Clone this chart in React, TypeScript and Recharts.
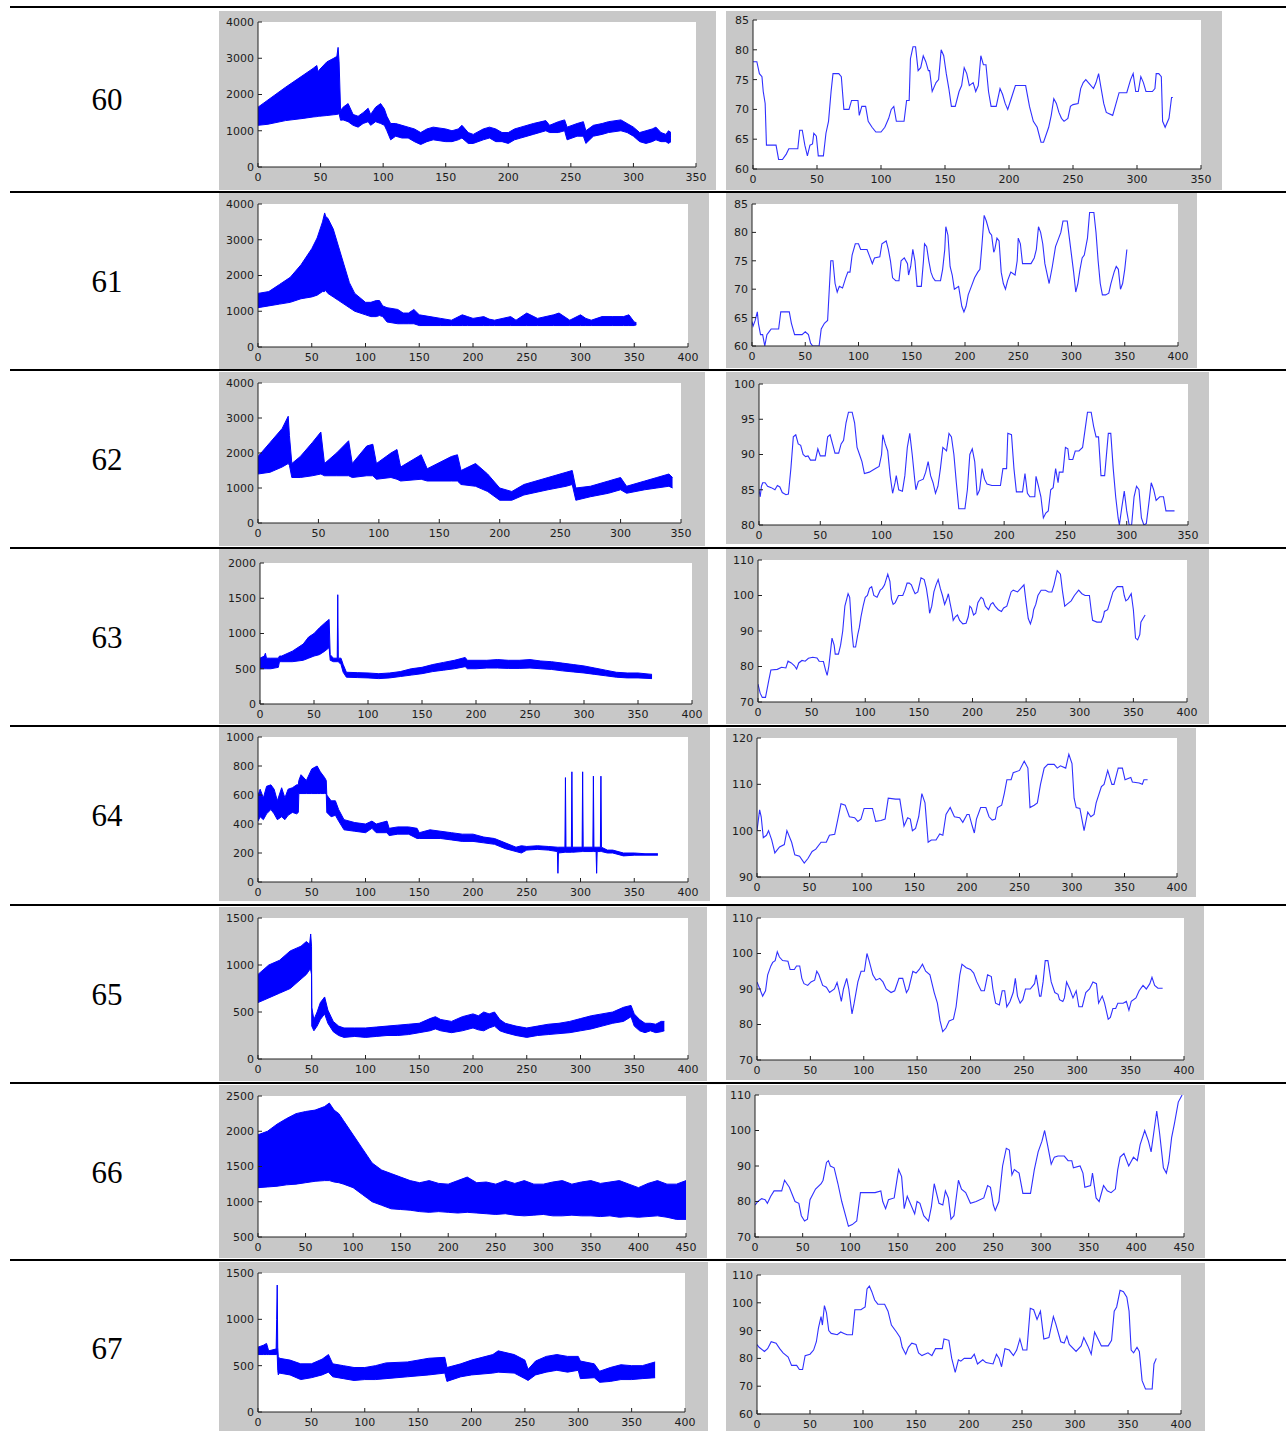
import React from 'react';
import { ComposedChart, Area, Line, XAxis, YAxis } from 'recharts';

// ---------- tick labels ----------
const xTicks350 = [0, 50, 100, 150, 200, 250, 300, 350];
const xTicks400 = [0, 50, 100, 150, 200, 250, 300, 350, 400];
const xTicks450 = [0, 50, 100, 150, 200, 250, 300, 350, 400, 450];
const yTicks4000 = [0, 1000, 2000, 3000, 4000];
const yTicks2000 = [0, 500, 1000, 1500, 2000];
const yTicks1000 = [0, 200, 400, 600, 800, 1000];
const yTicks1500 = [0, 500, 1000, 1500];
const yTicks2500 = [500, 1000, 1500, 2000, 2500];
const yTicks60to85 = [60, 65, 70, 75, 80, 85];
const yTicks80to100 = [80, 85, 90, 95, 100];
const yTicks70to110 = [70, 80, 90, 100, 110];
const yTicks90to120 = [90, 100, 110, 120];
const yTicks60to110 = [60, 70, 80, 90, 100, 110];

const rowLabels = ['60', '61', '62', '63', '64', '65', '66', '67'];

// ---------- left column: signal envelope [x, low, high] ----------
const band60: number[][] = [
  [0, 1150, 1650], [8, 1180, 1850], [22, 1280, 2200], [36, 1340, 2530], [44, 1380, 2720], [47, 1390, 2800],
  [48, 1400, 2620], [49, 1400, 2680], [55, 1420, 2900], [60, 1440, 2990], [63, 1450, 3050], [64, 1460, 3300],
  [64.8, 1470, 2900], [66, 1290, 1560], [68, 1300, 1650], [72, 1250, 1750], [76, 1150, 1450], [80, 1100, 1400],
  [84, 1200, 1500], [88, 1250, 1620], [90, 1150, 1450], [94, 1250, 1650], [98, 1200, 1750], [101, 1150, 1600],
  [103, 1000, 1400], [106, 750, 1200], [110, 850, 1200], [115, 800, 1150], [120, 800, 1100], [125, 700, 1050],
  [130, 620, 950], [135, 700, 1050], [140, 750, 1100], [150, 700, 1050], [155, 700, 1000], [160, 750, 1050],
  [163, 800, 1150], [168, 650, 950], [172, 650, 900], [180, 750, 1050], [185, 800, 1100], [190, 700, 1050],
  [195, 700, 950], [200, 650, 950], [205, 750, 1050], [210, 800, 1100], [220, 900, 1200], [230, 1000, 1280],
  [233, 950, 1150], [240, 950, 1250], [245, 1000, 1300], [247, 750, 1100], [255, 850, 1200], [260, 850, 1250],
  [262, 650, 1000], [268, 850, 1150], [275, 900, 1200], [280, 950, 1250], [290, 1000, 1300], [295, 950, 1200],
  [300, 850, 1100], [305, 700, 950], [310, 650, 1000], [315, 700, 1050], [318, 750, 1100], [322, 700, 950],
  [326, 700, 900], [328, 650, 1000], [330, 700, 950],
];
const band61: number[][] = [
  [0, 1100, 1500], [10, 1150, 1550], [20, 1200, 1750], [30, 1250, 1950], [40, 1350, 2300], [50, 1400, 2750],
  [55, 1450, 3050], [60, 1550, 3500], [62, 1550, 3750], [63, 1580, 3650], [65, 1500, 3600], [70, 1400, 3300],
  [75, 1300, 2800], [80, 1200, 2300], [85, 1100, 1800], [90, 1000, 1500], [100, 900, 1250], [105, 850, 1250],
  [110, 850, 1300], [113, 880, 1300], [116, 850, 1150], [120, 700, 1100], [130, 650, 1050], [135, 650, 950],
  [140, 650, 950], [145, 650, 1050], [150, 600, 900], [160, 600, 850], [170, 600, 800], [180, 600, 750],
  [190, 600, 900], [195, 600, 850], [200, 600, 800], [210, 600, 850], [215, 600, 780], [220, 600, 750],
  [235, 600, 850], [240, 600, 750], [250, 600, 950], [260, 600, 800], [275, 600, 900], [280, 600, 950],
  [290, 600, 750], [300, 600, 900], [305, 600, 800], [310, 600, 750], [320, 600, 850], [330, 600, 850],
  [340, 600, 850], [345, 600, 900], [350, 600, 700], [352, 620, 680],
];
const band62: number[][] = [
  [0, 1400, 1900], [10, 1450, 2300], [20, 1600, 2700], [25, 1700, 3050], [26, 1650, 2500], [28, 1300, 1700],
  [35, 1300, 1900], [45, 1350, 2300], [52, 1400, 2600], [55, 1350, 1700], [65, 1350, 2000], [75, 1350, 2350],
  [78, 1300, 1700], [90, 1350, 2200], [95, 1350, 2250], [98, 1250, 1700], [110, 1300, 2000], [115, 1250, 2100],
  [118, 1200, 1600], [135, 1250, 1950], [140, 1200, 1550], [160, 1200, 1900], [165, 1200, 1950], [168, 1100, 1500],
  [180, 1050, 1700], [190, 900, 1400], [200, 650, 1000], [210, 650, 900], [220, 800, 1100], [240, 950, 1300],
  [255, 1050, 1450], [260, 1100, 1500], [263, 650, 1000], [275, 750, 1050], [290, 850, 1200], [300, 950, 1300],
  [305, 850, 1050], [320, 950, 1200], [330, 1000, 1300], [340, 1050, 1400], [343, 1000, 1300],
];
const band63: number[][] = [
  [0, 500, 650], [4, 500, 680], [5, 500, 720], [6, 500, 650], [10, 500, 650], [17, 520, 650], [18, 600, 680],
  [20, 600, 680], [30, 600, 750], [40, 620, 850], [45, 650, 950], [50, 680, 1000], [55, 700, 1080],
  [60, 750, 1150], [64, 800, 1200], [65, 620, 700], [68, 600, 650], [71.5, 600, 650], [72, 600, 1550],
  [72.5, 600, 650], [75, 560, 650], [77, 450, 560], [80, 380, 450], [90, 375, 445], [100, 370, 440],
  [110, 360, 430], [120, 370, 440], [130, 390, 460], [140, 410, 500], [150, 430, 520], [160, 460, 560],
  [170, 480, 590], [180, 500, 620], [190, 530, 660], [192, 500, 620], [200, 500, 620], [210, 510, 620],
  [220, 510, 630], [230, 505, 620], [240, 505, 620], [250, 510, 630], [260, 500, 610], [270, 490, 600],
  [280, 470, 580], [290, 455, 560], [300, 440, 540], [310, 420, 510], [320, 400, 480], [330, 380, 450],
  [340, 370, 440], [350, 370, 440], [363, 360, 420],
];
const band64: number[][] = [
  [0, 420, 600], [2, 450, 640], [5, 430, 580], [8, 470, 660], [12, 500, 670], [15, 470, 640], [18, 430, 560],
  [22, 450, 650], [25, 430, 580], [28, 460, 640], [32, 480, 650], [36, 470, 670], [37.5, 480, 670],
  [38, 610, 700], [40, 610, 740], [45, 610, 700], [50, 610, 780], [55, 610, 800], [58, 610, 760],
  [62, 610, 720], [63.5, 610, 700], [64, 480, 600], [68, 450, 560], [72, 460, 560], [75, 420, 500],
  [80, 360, 430], [90, 350, 410], [100, 340, 400], [106, 370, 420], [110, 340, 400], [120, 340, 420],
  [122, 320, 370], [130, 330, 380], [140, 330, 380], [148, 300, 370], [150, 300, 340], [160, 300, 360],
  [170, 300, 350], [180, 290, 340], [190, 280, 330], [200, 280, 330], [210, 270, 310], [220, 260, 300],
  [230, 230, 270], [240, 210, 240], [245, 200, 250], [250, 220, 245], [260, 225, 250], [270, 220, 245],
  [278.5, 210, 240], [279, 60, 240], [279.5, 200, 240], [285.5, 205, 240], [286, 205, 720], [286.5, 205, 240],
  [291.5, 205, 240], [292, 205, 760], [292.5, 205, 240], [301.5, 210, 240], [302, 210, 760], [302.5, 210, 240],
  [311.5, 210, 240], [312, 210, 730], [312.5, 210, 240], [314.5, 210, 240], [315, 60, 240], [315.5, 210, 240],
  [318.5, 210, 240], [319, 210, 730], [319.5, 210, 240], [325, 200, 220], [330, 200, 220], [340, 180, 200],
  [350, 185, 200], [360, 185, 195], [372, 185, 195],
];
const band65: number[][] = [
  [0, 600, 900], [10, 650, 1000], [20, 700, 1050], [30, 750, 1150], [40, 850, 1200], [45, 900, 1250],
  [48, 950, 1220], [49, 950, 1330], [49.8, 900, 1200], [50, 350, 550], [52, 300, 420], [55, 350, 500],
  [58, 420, 600], [62, 480, 660], [65, 380, 520], [70, 290, 400], [75, 250, 350], [80, 230, 330],
  [90, 240, 330], [100, 230, 330], [110, 240, 340], [120, 250, 350], [130, 250, 360], [140, 260, 370],
  [150, 280, 380], [160, 300, 430], [165, 320, 450], [170, 300, 420], [180, 280, 400], [190, 300, 450],
  [200, 330, 480], [205, 310, 460], [210, 300, 500], [215, 330, 480], [220, 350, 500], [225, 300, 420],
  [230, 280, 380], [240, 250, 350], [250, 230, 330], [260, 250, 350], [270, 260, 370], [280, 270, 380],
  [290, 280, 400], [300, 300, 430], [310, 320, 460], [320, 350, 480], [330, 380, 500], [340, 400, 550],
  [347, 450, 570], [350, 350, 480], [355, 300, 420], [360, 280, 380], [365, 300, 380], [370, 280, 370],
  [375, 290, 400], [378, 300, 400],
];
const band66: number[][] = [
  [0, 1200, 1950], [10, 1210, 2000], [20, 1220, 2100], [30, 1240, 2180], [40, 1250, 2250], [50, 1270, 2280],
  [60, 1290, 2300], [70, 1300, 2350], [75, 1300, 2400], [80, 1280, 2300], [85, 1270, 2250], [90, 1250, 2150],
  [100, 1200, 1950], [110, 1100, 1750], [115, 1050, 1650], [120, 1000, 1550], [130, 950, 1450], [140, 900, 1400],
  [150, 890, 1350], [160, 880, 1300], [170, 860, 1270], [180, 850, 1300], [190, 860, 1260], [200, 850, 1250],
  [210, 840, 1300], [220, 850, 1350], [230, 840, 1270], [240, 830, 1280], [250, 820, 1250], [260, 830, 1300],
  [270, 810, 1260], [280, 800, 1300], [290, 810, 1250], [300, 820, 1250], [310, 800, 1280], [320, 800, 1300],
  [330, 810, 1250], [340, 800, 1280], [350, 800, 1300], [360, 790, 1260], [370, 800, 1280], [380, 780, 1300],
  [390, 790, 1250], [400, 780, 1200], [410, 790, 1260], [420, 800, 1300], [430, 780, 1250], [440, 750, 1250],
  [450, 750, 1300],
];
const band67: number[][] = [
  [0, 620, 700], [5, 620, 720], [8, 620, 740], [10, 620, 660], [17, 620, 680], [17.5, 620, 1000],
  [18, 620, 1370], [18.5, 450, 700], [19, 400, 600], [20, 420, 580], [30, 400, 560], [40, 350, 520],
  [50, 370, 520], [60, 400, 570], [66, 430, 620], [70, 380, 520], [80, 360, 500], [90, 340, 480],
  [100, 350, 480], [110, 350, 500], [120, 360, 530], [140, 380, 540], [160, 400, 580], [175, 420, 590],
  [177, 330, 480], [190, 380, 520], [200, 400, 560], [220, 420, 620], [225, 430, 660], [240, 420, 620],
  [250, 360, 560], [253, 340, 460], [260, 400, 550], [270, 430, 600], [280, 450, 620], [290, 430, 600],
  [300, 450, 600], [302, 360, 550], [315, 370, 520], [320, 320, 440], [330, 330, 480], [340, 350, 510],
  [350, 350, 500], [360, 360, 500], [372, 370, 540],
];

// ---------- right column: trace [x, y] ----------
const trace60: number[][] = [
  [0, 78], [3, 78], [5, 76], [7, 75.5], [8, 73], [9.5, 71], [10.5, 64], [18, 64], [20, 61.6], [23, 61.6],
  [26, 62.5], [28, 63.4], [35, 63.4], [36.5, 66.5], [38.5, 66.5], [40.5, 64], [42.5, 62.2], [44.5, 64],
  [46.5, 64.2], [47.5, 66], [49.5, 65.5], [51, 62.2], [55, 62.2], [57, 66], [59, 68], [61, 73], [62.5, 76],
  [67, 76], [69, 75.5], [71, 70], [75, 70], [77, 71.5], [82, 71.5], [83, 69], [85, 70.5], [88, 70.5],
  [90, 68], [93, 67], [96, 66.2], [100, 66.2], [103, 67], [106, 68.5], [108, 70], [110, 70.5], [112, 68],
  [118, 68], [120, 71.5], [122, 71.5], [123, 78.5], [125, 80.5], [127, 80.5], [129, 76.5], [131, 77],
  [133, 79], [135, 78], [137, 76.5], [138, 76.5], [140, 73], [143, 74.5], [145, 75], [147, 80], [149, 79],
  [151, 76], [153, 73.5], [155, 70.5], [158, 70.5], [161, 73], [163, 74], [165, 77], [167, 76], [169, 74],
  [172, 74.5], [174, 73], [176, 74], [178, 79], [180, 77.5], [182, 77.5], [184, 73], [186, 70.5], [190, 70.5],
  [193, 73.5], [195, 72.5], [197, 71], [199, 70], [202, 72], [205, 74], [213, 74], [216, 70.5], [219, 68],
  [222, 67], [225, 64.5], [227, 64.5], [231, 67], [233, 69], [235, 71.8], [237, 71], [239, 69.5],
  [241, 68.5], [243, 68], [246, 68.5], [248, 70.5], [250, 70.8], [254, 71], [256, 73.5], [258, 74.5],
  [260, 75], [262, 74.5], [266, 73.5], [268, 74.5], [270, 76], [272, 73.5], [274, 71], [276, 69.5],
  [281, 69], [286, 72.8], [292, 72.8], [295, 75], [297, 76], [299, 73], [301, 73], [303, 75.5], [305, 74.5],
  [307, 73], [312, 73], [314, 73.5], [315, 76], [317, 76], [319, 75.5], [320, 68], [322, 67], [325, 68.5],
  [327, 72], [328, 72],
];
const trace61: number[][] = [
  [0, 64.3], [1, 63.5], [3, 64.5], [5, 66], [6, 64], [8, 62], [10, 62], [12, 60], [14, 62], [16, 62.5],
  [18, 63], [25, 63], [27, 66], [35, 66], [37, 64], [40, 62], [47, 62], [50, 62.5], [53, 62], [55, 60.5],
  [57, 60], [63, 60], [65, 63], [68, 64], [71, 64.5], [74, 75], [76, 75], [78, 71], [80, 69.5], [82, 70.5],
  [85, 70.2], [88, 72], [90, 73], [92, 73], [94, 76], [97, 78], [100, 78], [102, 77], [108, 77], [110, 76],
  [112, 75], [113, 74.5], [115, 75.5], [120, 75.7], [122, 78], [126, 78.5], [128, 77], [130, 75], [132, 72],
  [135, 71.5], [138, 71.5], [140, 75], [143, 75.5], [146, 74.5], [147, 72.5], [149, 74], [151, 77], [153, 75],
  [155, 70.5], [159, 70.5], [161, 75], [162, 78], [164, 77.5], [166, 75], [168, 73], [170, 72], [172, 71.5],
  [177, 71.5], [179, 73.5], [181, 77], [182, 81], [184, 79.5], [186, 74], [188, 72.5], [190, 70], [194, 70.5],
  [197, 67], [199, 66], [201, 67], [203, 69], [206, 70.5], [209, 72], [212, 73], [214, 73.5], [216, 78],
  [218, 83], [220, 82], [223, 80], [225, 79.5], [227, 76.5], [228, 77], [230, 79], [232, 78.5], [234, 73],
  [236, 71], [238, 70], [240, 71.5], [243, 73], [247, 72.5], [249, 75], [250, 79], [252, 78], [254, 74.5],
  [262, 74.5], [265, 75.5], [267, 77], [269, 81], [271, 80], [273, 78], [275, 74.5], [279, 71], [282, 74],
  [285, 77.5], [288, 79], [290, 80], [292, 82], [296, 82], [298, 79], [300, 76], [302, 73], [304, 69.5],
  [306, 71], [308, 73.5], [310, 75.5], [312, 76], [315, 79], [317, 83.5], [321, 83.5], [323, 80], [325, 75],
  [327, 71], [329, 69], [332, 69], [335, 69.3], [337, 71], [340, 73], [342, 74], [344, 73.5], [346, 70],
  [348, 71], [350, 73.5], [352, 77],
];
const trace62: number[][] = [
  [0, 85], [1, 84], [2, 85.5], [3, 86], [5, 86], [7, 85.5], [10, 85.3], [13, 85], [15, 85.6], [17, 85.4],
  [19, 84.6], [22, 84.3], [24, 84.4], [26, 88], [28, 92.5], [30, 92.8], [32, 91.5], [34, 91.3], [36, 90],
  [38, 89.7], [40, 89.8], [42, 89.2], [46, 89.2], [48, 90.8], [50, 89.8], [54, 89.8], [56, 92.5], [58, 92.8],
  [60, 91.5], [62, 90.2], [65, 90.2], [67, 91.5], [69, 92], [71, 94.5], [73, 96], [76, 96], [78, 94.5],
  [80, 91], [82, 90], [84, 89], [86, 87.3], [90, 87.5], [95, 88], [98, 88.3], [100, 90], [101, 92.8],
  [103, 91.5], [105, 90.5], [107, 87], [109, 84.5], [111, 86], [112, 87], [114, 85], [117, 84.8], [119, 87],
  [121, 91], [123, 93], [125, 90], [127, 86.5], [128, 85], [130, 86.2], [134, 86.5], [136, 87.5], [138, 89],
  [140, 87], [142, 86], [144, 84.5], [146, 85.5], [148, 88], [150, 91], [153, 90.5], [155, 93], [157, 92.5],
  [159, 90], [161, 86], [163, 82.3], [168, 82.3], [170, 85], [172, 90], [174, 90.8], [176, 89], [178, 84.2],
  [180, 85], [182, 88], [184, 86.5], [186, 85.8], [190, 85.6], [197, 85.6], [199, 88], [202, 88], [203, 93],
  [206, 92.8], [208, 88], [210, 84.7], [215, 84.7], [217, 87.3], [219, 84.5], [221, 84], [225, 84],
  [226, 86.9], [228, 85.5], [230, 84], [232, 81], [234, 81.7], [236, 82], [238, 85], [240, 85.3], [242, 88],
  [244, 86], [245, 87.5], [248, 87.5], [250, 91], [252, 90.8], [253, 89.3], [256, 89.3], [258, 90.5],
  [261, 90.5], [264, 91], [266, 93.5], [268, 96], [271, 96], [273, 94], [275, 92.5], [277, 92.5], [279, 87],
  [282, 87], [285, 93], [287, 93], [289, 88], [291, 84], [293, 81], [294, 80], [296, 82.5], [298, 84.8],
  [300, 82], [302, 80], [304, 80], [306, 84], [308, 85.5], [310, 85], [312, 81], [314, 80], [316, 80.2],
  [318, 83], [320, 86], [322, 85], [324, 83.5], [327, 84], [330, 84], [332, 82], [336, 82], [339, 82],
];
const trace63: number[][] = [
  [0, 75], [2, 72.5], [4, 71.3], [7, 71.3], [10, 76], [12, 79], [18, 79.2], [22, 79.8], [26, 79.6],
  [28, 81.5], [31, 81], [34, 80.2], [36, 79.3], [38, 81], [41, 81.7], [44, 81.5], [47, 82.3], [51, 82.6],
  [55, 82.4], [57, 81.5], [61, 81.4], [63, 79], [64.5, 77.5], [66, 80], [69, 88], [71, 86], [72, 83.5],
  [75, 83.5], [77, 86], [79, 90], [81, 97], [84, 100.5], [85.5, 99.5], [87.5, 90], [89, 85.5], [91, 85.5],
  [93, 89], [94.5, 91], [96, 94], [98, 97], [100, 99.5], [102, 100], [104, 102], [106, 102.5], [108, 100],
  [111, 99.5], [114, 101.5], [116, 102], [118, 103], [121, 106], [123, 104], [124.5, 99], [126, 97.5],
  [128, 98], [131, 100], [135, 100], [137, 101.5], [139, 103.5], [141, 103.5], [143, 103], [145, 101.5],
  [146.5, 100.5], [149, 101], [152, 105], [155, 104.5], [157, 102], [159, 98], [160, 95], [162, 97],
  [164, 101], [166, 103], [168, 104.5], [170, 102], [172, 100], [174, 97.5], [176, 99], [177.5, 100.5],
  [179, 98], [181, 95], [182, 93], [184, 94], [186, 94.5], [188, 93], [191, 92], [194, 92.2], [196, 94],
  [197.5, 97], [199, 96.5], [201, 94.5], [203, 95], [205, 98], [208, 99.5], [210, 99], [212, 97], [215, 96],
  [217, 97.5], [219, 98], [221, 97], [224, 96], [227, 95.5], [229, 96.5], [232, 97], [234, 99], [236, 101],
  [238, 101.5], [242, 101], [245, 102], [248, 103], [250, 98], [252, 93.5], [254, 92], [256, 94], [257, 96],
  [259, 97.5], [261, 100], [264, 101.5], [268, 101.5], [271, 101], [274, 101], [276, 103], [279, 107],
  [282, 106], [284, 101], [286, 97], [288, 97.5], [290, 98], [292, 98.5], [295, 100], [299, 101.5],
  [302, 100.5], [305, 100], [309, 100], [311, 95], [312, 93], [316, 92.5], [320, 92.5], [322, 94],
  [323, 95.5], [326, 96], [328, 98], [331, 101], [335, 102.5], [340, 102.5], [341.5, 100], [343, 98.5],
  [345, 99], [348, 100.5], [350, 96], [352, 88], [354, 87.5], [356, 89], [357, 92.5], [359, 93.5], [361, 94.5],
];
const trace64: number[][] = [
  [0, 100], [2.5, 104.5], [4, 103], [6, 98.5], [9, 99], [11, 100], [14, 98], [17, 95.2], [21.5, 96.5],
  [26, 97], [28.5, 100], [33, 97.5], [36, 94.8], [40.5, 94.5], [45, 93], [48.5, 94], [52.5, 95.5], [56, 96],
  [61, 97.5], [66, 97.5], [69, 99], [74, 99.2], [77, 102.5], [80, 105.8], [84, 105.5], [88, 103], [93, 102.8],
  [96, 102], [99, 102.5], [102, 104.8], [110, 104.8], [113, 102], [118, 102.2], [122, 102.5], [125, 107],
  [132, 106.8], [136, 106.8], [140, 101], [143.5, 102.8], [146, 102.5], [148, 100], [151, 100.5], [154, 103],
  [157, 108], [160, 106], [163, 97.5], [166, 98], [170.5, 98], [174, 99.3], [177, 99], [180, 103.5],
  [184, 105], [188, 103], [193, 102.8], [196, 101.8], [200, 103.5], [202, 103.5], [205, 101], [207, 99.5],
  [209, 102.5], [213, 105], [218, 105], [221, 103], [224, 102.3], [227, 102.5], [229, 105], [233, 105.5],
  [235.5, 108], [238, 111], [242, 111], [244, 112.5], [250, 113], [254.5, 115], [258, 113.5], [260, 105],
  [264, 105.5], [267, 106], [270, 110], [273.5, 113.5], [277, 114.3], [283, 114.3], [286, 113.5], [289, 114],
  [294, 113.5], [297, 116.5], [300, 114.5], [302, 107], [304, 105], [307.5, 104.8], [311.5, 100], [315, 104],
  [318, 103], [321, 103.5], [323, 106], [328, 109.5], [330.5, 110], [334, 113], [338, 110], [340, 110],
  [344, 113.5], [348, 113.5], [350.5, 111], [356, 111.5], [357.5, 110.5], [364, 110.3], [367, 110],
  [368.5, 111], [372, 111],
];
const trace65: number[][] = [
  [0, 92], [2, 90.5], [5.3, 88], [8, 89.5], [10, 94], [13, 96.5], [14.7, 97.5], [17, 98], [19, 100.5],
  [21, 99], [24, 98], [29, 97.8], [31, 95.5], [35, 95.5], [37, 96.5], [40, 96.5], [42, 93], [44, 91.5],
  [47.5, 91], [50.6, 92], [54, 92.5], [56, 95], [58, 94], [61.5, 91], [65, 90.5], [68, 89], [72.5, 90],
  [75, 91.8], [76.5, 90], [79, 86.5], [81, 90], [84, 93], [86, 90], [89, 83], [91, 86], [94.5, 92],
  [97.5, 95], [100.6, 95], [103, 100], [105, 98], [108.5, 94], [111.5, 92.5], [115, 93], [118, 92],
  [121, 90], [125.6, 89], [129, 89.5], [133, 93], [136.5, 93], [140, 89], [142, 90], [146, 95], [149, 94.5],
  [152, 95.5], [155, 97], [158, 95], [162, 94], [166, 89], [169, 86], [171.5, 81], [174, 78], [177, 79],
  [180, 81], [184, 81.5], [186.5, 85], [190, 94], [192, 97], [196, 96], [200, 95.5], [203, 94.5], [206, 92],
  [210, 89.5], [213, 89.5], [216, 94], [219.5, 93.5], [221, 90], [223.5, 86], [227, 85.5], [229.7, 89.5],
  [232, 89.5], [234, 85], [237, 86.5], [240, 89], [242, 93], [244, 88], [246.5, 86], [249, 87], [251.5, 90],
  [256, 90], [260, 91.5], [261.5, 94], [264.7, 88], [266, 88], [268, 92], [270, 98], [272.5, 98], [275.6, 92],
  [279, 89], [282, 88.5], [283.4, 87], [286.5, 86.5], [288, 87.5], [290, 92], [293, 90], [296, 87.5],
  [299, 89.5], [301.5, 85], [304.7, 85], [308, 89], [311.5, 90], [314.7, 92], [318, 91.5], [320, 86],
  [323.4, 88], [325.6, 86], [329, 81.5], [331, 82], [333.4, 84.5], [336, 84.5], [338, 86], [343, 86],
  [346, 86.5], [348.4, 84], [350.6, 86.5], [355, 87.5], [358, 89.5], [361.6, 91], [364.7, 90], [368, 91.5],
  [370, 93.3], [372.5, 91], [375.6, 90.2], [380, 90.2],
];
const trace66: number[][] = [
  [0, 79], [3, 80], [7, 80.8], [10.6, 80.5], [13, 79.5], [16.5, 81.5], [20, 83], [28, 83], [31, 86], [36, 84],
  [42, 80], [46, 79.5], [48.6, 76], [52, 74.5], [55, 75], [57.7, 80.5], [63.5, 83.5], [69.4, 85], [71.4, 86],
  [75, 91], [77, 91.5], [79, 90], [83, 89.5], [87, 85], [91, 80], [95, 76], [98, 73], [102, 73.5],
  [106.7, 74.5], [110.6, 82.5], [118.5, 82.5], [126, 82.5], [132, 83], [134, 80], [137, 78], [140, 80.5],
  [146, 81], [150.6, 89], [153.8, 87], [156.5, 78], [159.7, 81.5], [163.6, 79], [167.5, 76.5], [170, 80],
  [173, 79.5], [177, 76], [182, 74.5], [185, 78.5], [188, 85], [193, 79.5], [197, 79], [199.7, 83],
  [202.8, 81], [205.6, 75], [208.7, 76], [213.4, 86], [216.6, 83.5], [221, 82.5], [226, 79.5], [232, 80],
  [240, 81], [244, 84.5], [247, 84], [250, 79], [252, 77.5], [255.8, 80], [259.7, 90], [263.6, 95],
  [266.8, 94.5], [269.5, 87.5], [272, 89], [277, 88], [281, 82.3], [289, 82.3], [293, 89], [297, 94],
  [301, 97], [303.8, 100], [306.8, 96], [310.7, 90.5], [314, 92.5], [317.8, 92.8], [324.4, 92.8],
  [328.4, 91.5], [332.3, 91.5], [334, 89.5], [341, 90], [344, 88], [346, 84], [352, 84.5], [354, 88],
  [357.8, 81], [361, 80], [365.6, 84.5], [369.5, 83], [373.5, 82.5], [378, 83.5], [380.5, 89], [383, 92.5],
  [387, 93.5], [392, 90], [397, 92.5], [401, 91.5], [404, 96], [408.8, 100], [412.7, 97], [415.5, 94],
  [418.6, 100], [421.4, 105.5], [424.5, 99], [428.4, 89.5], [431.5, 88], [434, 91], [437, 98], [440, 102],
  [444, 108], [448, 110],
];
const trace67: number[][] = [
  [0, 85], [2, 84], [7, 82.5], [10, 83.5], [13.4, 86], [18, 85.5], [21.4, 83.5], [24.6, 82], [29.4, 80.5],
  [32.6, 77.5], [37.4, 77.5], [40, 76], [43, 76], [45.4, 81], [50, 81.5], [53.4, 83], [56, 86], [58, 91],
  [60.4, 95], [61.7, 92], [63.6, 99], [65.5, 96.5], [67.7, 90], [70, 89], [75.7, 88.5], [79, 89.5], [82, 89],
  [85, 88.5], [90, 88.5], [92.3, 97.5], [98, 97.5], [102, 98.5], [103.8, 105], [106, 106], [108.3, 104],
  [111, 101], [114, 99.5], [120.4, 99.5], [123.6, 97], [126.8, 92], [131.6, 89.5], [135, 87.5], [137, 84],
  [140.3, 81.5], [142.8, 84], [146, 85.5], [150, 85], [152.4, 82], [155.6, 81], [161.3, 82], [165, 81],
  [168.4, 83.5], [174.8, 83.5], [176.4, 87], [181, 86.5], [183.7, 80], [187, 75], [190, 79.5], [192.3, 79],
  [195.5, 80], [202, 80], [205, 81.5], [208, 78], [213, 79.5], [216, 78.5], [222.7, 78], [225.9, 81.5],
  [228.4, 80], [230.7, 77], [233.9, 83.5], [238, 83], [241.9, 81], [245, 83], [248, 87], [250.8, 83],
  [254.6, 83], [257.8, 98], [261, 97.5], [264.2, 94], [267.4, 97], [270.6, 87], [275.4, 87.5], [279.6, 95],
  [281.8, 92.5], [286.6, 86], [289.8, 85.5], [292.3, 88], [294.6, 85], [301, 82.5], [305.8, 84.5],
  [308.3, 87.5], [312.1, 84.5], [315.3, 81.5], [318.5, 89.5], [321.7, 87], [324.9, 84.5], [331.3, 84.5],
  [334.5, 86.5], [337, 97], [339.3, 98.5], [342.5, 104.5], [345.7, 104], [348.9, 102], [351, 97], [353, 83],
  [355.3, 82], [358.5, 84], [360.7, 82.5], [363.3, 72], [366.5, 69], [372.8, 69], [374.5, 78], [376.7, 80],
];

// ---------- layout ----------
type PanelSpec = {
  box: number[]; // left, top, right, bottom
  plot: number[]; // x0, x1, yTop, yBottom
  xDomain: number[];
  xTicks: number[];
  yDomain: number[];
  yTicks: number[];
  kind: 'band' | 'line';
  values: number[][];
};

const bandPanels: PanelSpec[] = [
  { box: [219, 11, 716, 190], plot: [258, 696, 22, 167], xDomain: [0, 350], xTicks: xTicks350, yDomain: [0, 4000], yTicks: yTicks4000, kind: 'band', values: band60 },
  { box: [219, 193, 709, 369], plot: [258, 688, 204, 347], xDomain: [0, 400], xTicks: xTicks400, yDomain: [0, 4000], yTicks: yTicks4000, kind: 'band', values: band61 },
  { box: [219, 372, 705, 546], plot: [258, 681, 383, 523], xDomain: [0, 350], xTicks: xTicks350, yDomain: [0, 4000], yTicks: yTicks4000, kind: 'band', values: band62 },
  { box: [219, 549, 708, 724], plot: [260, 692, 563, 704], xDomain: [0, 400], xTicks: xTicks400, yDomain: [0, 2000], yTicks: yTicks2000, kind: 'band', values: band63 },
  { box: [219, 727, 710, 901], plot: [258, 688, 737, 882], xDomain: [0, 400], xTicks: xTicks400, yDomain: [0, 1000], yTicks: yTicks1000, kind: 'band', values: band64 },
  { box: [219, 907, 707, 1081], plot: [258, 688, 918, 1059], xDomain: [0, 400], xTicks: xTicks400, yDomain: [0, 1500], yTicks: yTicks1500, kind: 'band', values: band65 },
  { box: [219, 1085, 707, 1258], plot: [258, 686, 1096, 1237], xDomain: [0, 450], xTicks: xTicks450, yDomain: [500, 2500], yTicks: yTicks2500, kind: 'band', values: band66 },
  { box: [219, 1262, 708, 1431], plot: [258, 685, 1273, 1412], xDomain: [0, 400], xTicks: xTicks400, yDomain: [0, 1500], yTicks: yTicks1500, kind: 'band', values: band67 },
];

const linePanels: PanelSpec[] = [
  { box: [726, 11, 1222, 190], plot: [753, 1201, 20, 169], xDomain: [0, 350], xTicks: xTicks350, yDomain: [60, 85], yTicks: yTicks60to85, kind: 'line', values: trace60 },
  { box: [726, 193, 1197, 368], plot: [752, 1178, 204, 346], xDomain: [0, 400], xTicks: xTicks400, yDomain: [60, 85], yTicks: yTicks60to85, kind: 'line', values: trace61 },
  { box: [726, 372, 1209, 544], plot: [759, 1188, 384, 525], xDomain: [0, 350], xTicks: xTicks350, yDomain: [80, 100], yTicks: yTicks80to100, kind: 'line', values: trace62 },
  { box: [726, 549, 1209, 724], plot: [758, 1187, 560, 702], xDomain: [0, 400], xTicks: xTicks400, yDomain: [70, 110], yTicks: yTicks70to110, kind: 'line', values: trace63 },
  { box: [726, 728, 1196, 897], plot: [757, 1177, 738, 877], xDomain: [0, 400], xTicks: xTicks400, yDomain: [90, 120], yTicks: yTicks90to120, kind: 'line', values: trace64 },
  { box: [726, 906, 1204, 1080], plot: [757, 1184, 918, 1060], xDomain: [0, 400], xTicks: xTicks400, yDomain: [70, 110], yTicks: yTicks70to110, kind: 'line', values: trace65 },
  { box: [726, 1085, 1205, 1258], plot: [755, 1184, 1095, 1237], xDomain: [0, 450], xTicks: xTicks450, yDomain: [70, 110], yTicks: yTicks70to110, kind: 'line', values: trace66 },
  { box: [726, 1263, 1205, 1431], plot: [757, 1181, 1275, 1414], xDomain: [0, 400], xTicks: xTicks400, yDomain: [60, 110], yTicks: yTicks60to110, kind: 'line', values: trace67 },
];

const rowLabelY = [100, 282, 460, 638, 816, 995, 1173, 1349];
const ruleY = [6, 191, 369, 547, 725, 904, 1082, 1259];

const AXIS = '#222';
const tickFont = { fontSize: 11, fill: '#1c1c1c', fontFamily: 'DejaVu Sans' };

function Panel({ spec }: { spec: PanelSpec }) {
  const [l, t, r, b] = spec.box;
  const [px0, px1, pyT, pyB] = spec.plot;
  const W = r - l;
  const H = b - t;
  const yW = px0 - l;
  const xH = b - pyB;
  const mTop = pyT - t;
  const mRight = r - px1;
  const data =
    spec.kind === 'band'
      ? spec.values.map((v) => ({ x: v[0], band: [v[1], v[2]] }))
      : spec.values.map((v) => ({ x: v[0], y: v[1] }));
  return (
    <div style={{ position: 'absolute', left: l, top: t, width: W, height: H, background: '#c8c8c8' }}>
      <div style={{ position: 'absolute', left: yW, top: mTop, width: px1 - px0, height: pyB - pyT, background: '#fff' }} />
      <ComposedChart width={W} height={H} data={data} margin={{ top: mTop, right: mRight, left: 0, bottom: 0 }}>
        <XAxis
          xAxisId="b"
          dataKey="x"
          type="number"
          domain={spec.xDomain}
          ticks={spec.xTicks}
          interval={0}
          allowDataOverflow
          height={xH}
          tickSize={-4}
          tickMargin={10}
          axisLine={{ stroke: AXIS }}
          tickLine={{ stroke: AXIS }}
          tick={tickFont}
        />
        <XAxis
          xAxisId="t"
          orientation="top"
          dataKey="x"
          type="number"
          domain={spec.xDomain}
          ticks={spec.xTicks}
          interval={0}
          allowDataOverflow
          height={0}
          tickSize={-4}
          tick={false}
          axisLine={{ stroke: AXIS }}
          tickLine={{ stroke: AXIS }}
        />
        <YAxis
          yAxisId="l"
          type="number"
          domain={spec.yDomain}
          ticks={spec.yTicks}
          interval={0}
          allowDataOverflow
          width={yW}
          tickSize={-4}
          tickMargin={8}
          axisLine={{ stroke: AXIS }}
          tickLine={{ stroke: AXIS }}
          tick={tickFont}
        />
        <YAxis
          yAxisId="r"
          orientation="right"
          type="number"
          domain={spec.yDomain}
          ticks={spec.yTicks}
          interval={0}
          allowDataOverflow
          width={0}
          tickSize={-4}
          tick={false}
          axisLine={{ stroke: AXIS }}
          tickLine={{ stroke: AXIS }}
        />
        {spec.kind === 'band' ? (
          <Area
            xAxisId="b"
            yAxisId="l"
            type="linear"
            dataKey="band"
            stroke="#0000ff"
            strokeWidth={1}
            fill="#0000ff"
            fillOpacity={1}
            dot={false}
            activeDot={false}
            isAnimationActive={false}
          />
        ) : (
          <Line
            xAxisId="b"
            yAxisId="l"
            type="linear"
            dataKey="y"
            stroke="#3030ff"
            strokeWidth={1.1}
            dot={false}
            activeDot={false}
            isAnimationActive={false}
          />
        )}
      </ComposedChart>
    </div>
  );
}

export default function App() {
  return (
    <div style={{ position: 'absolute', left: 0, top: 0, width: 1286, height: 1431, background: '#fff', overflow: 'hidden' }}>
      {ruleY.map((y, i) => (
        <div key={'rule' + i} style={{ position: 'absolute', left: 10, top: y, width: 1276, height: 2, background: '#000' }} />
      ))}
      {rowLabels.map((lab, i) => (
        <div
          key={'lab' + i}
          style={{
            position: 'absolute',
            left: 57,
            width: 100,
            top: rowLabelY[i] - 18,
            height: 36,
            lineHeight: '36px',
            textAlign: 'center',
            fontFamily: '"Liberation Serif", "Times New Roman", serif',
            fontSize: 31,
            color: '#000',
          }}
        >
          {lab}
        </div>
      ))}
      {bandPanels.map((p, i) => (
        <Panel key={'b' + i} spec={p} />
      ))}
      {linePanels.map((p, i) => (
        <Panel key={'l' + i} spec={p} />
      ))}
    </div>
  );
}
